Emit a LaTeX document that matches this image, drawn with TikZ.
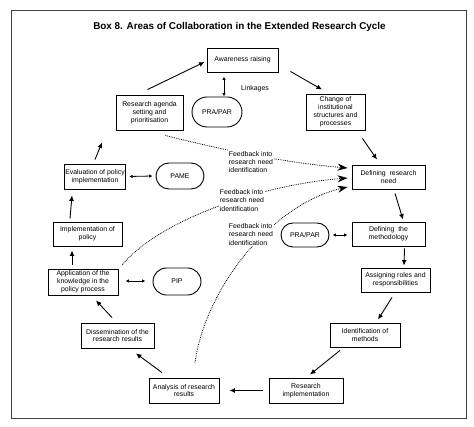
\documentclass[tikz,border=0pt]{standalone}
\usepackage{fontspec}
\setmainfont{Liberation Sans}
\usetikzlibrary{arrows.meta,shapes.misc,calc}
\begin{document}
\begin{tikzpicture}[x=1pt,y=-1pt,
 box/.style={draw,line width=0.9pt,align=center,font=\fontsize{6.9}{7.9}\selectfont,inner sep=1pt},
 pill/.style={draw,rounded rectangle,line width=0.9pt,font=\fontsize{6.9}{7.9}\selectfont,inner sep=1pt},
 fb/.style={align=left,fill=white,font=\fontsize{6.9}{8.2}\selectfont,inner sep=1pt},
 arr/.style={line width=0.9pt,-{Latex[length=5.5pt,width=5pt]}},
 darr/.style={line width=0.8pt,{Latex[length=3.5pt,width=3.5pt]}-{Latex[length=3.5pt,width=3.5pt]}},
 dots/.style={densely dotted,line width=0.8pt,-{Stealth[length=10pt,width=7pt]}}]
\useasboundingbox (0,0) rectangle (474,427);
\draw[line width=0.8pt,black!75] (11,10) rectangle (466,418);
\node[font=\bfseries\fontsize{9.9}{12}\selectfont] (title) at (239.5,27) {Box 8. Areas of Collaboration in the Extended Research Cycle};

\node[box,minimum width=71pt,minimum height=24pt] (aware) at (242.5,60) {Awareness raising};
\node[pill,minimum width=52pt,minimum height=30pt] (praTop) at (217,112) {PRA/PAR};
\node[box,minimum width=67pt,minimum height=35pt] (agenda) at (149.5,112.5) {Research agenda\\setting and\\prioritisation};
\node[box,minimum width=59pt,minimum height=36pt] (change) at (335.5,112) {Change of\\institutional\\structures and\\processes};
\node[box,minimum width=60pt,minimum height=25pt] (eval) at (95,176.5) {Evaluation of policy\\implementation};
\node[pill,minimum width=50pt,minimum height=26pt] (pame) at (180,176) {PAME};
\node[box,minimum width=73pt,minimum height=24pt] (need) at (388.5,177) {Defining\ \ research\\need};
\node[box,minimum width=69pt,minimum height=24pt] (impl) at (87.5,234) {Implementation of\\policy};
\node[pill,minimum width=50pt,minimum height=24pt] (praRight) at (305,235) {PRA/PAR};
\node[box,minimum width=73pt,minimum height=24pt] (method) at (388.5,234) {Defining\ \ the\\methodology};
\node[box,minimum width=70pt,minimum height=26pt] (appl) at (83,282) {Application of the\\knowledge in the\\policy process};
\node[pill,minimum width=50pt,minimum height=27pt] (pip) at (177,281.5) {PIP};
\node[box,minimum width=69pt,minimum height=24pt] (assign) at (395.5,280) {Assigning roles and\\responsibilities};
\node[box,minimum width=73pt,minimum height=25pt] (dissem) at (117.5,335.5) {Dissemination of the\\research results};
\node[box,minimum width=70pt,minimum height=24pt] (ident) at (365,335) {Identification of\\methods};
\node[box,minimum width=70pt,minimum height=25pt] (analysis) at (184,390.5) {Analysis of research\\results};
\node[box,minimum width=74pt,minimum height=25pt] (resimpl) at (306,390.5) {Research\\implementation};

% dotted feedback curves
\draw[dots] ($(agenda.south east)+(-18,5)$) .. controls (230,152) and (290,163) .. ($(need.west)+(-4,-9)$);
\draw[dots] ($(appl.north east)+(4,-4)$) .. controls (160,220) and (260,185) .. ($(need.west)+(-4,1)$);
\draw[dots] ($(analysis.north)+(11,-15)$) .. controls (205,290) and (270,205) .. ($(need.west)+(-4,10)$);

\node[fb] (fb1) at (251,162) {Feedback into\\research need\\identification};
\node[fb] (fb2) at (242,200.5) {Feedback into\\research need\\identification};
\node[fb] (fb3) at (251,234.5) {Feedback into\\research need\\identification};
\node[font=\fontsize{6.9}{7.9}\selectfont] (link) at (255,89) {Linkages};

% cycle arrows
\draw[arr] ($(agenda.north)+(-2,-5)$) -- ($(aware.west)+(-2,2)$);
\draw[arr] ($(aware.south east)+(12,-1)$) -- ($(change.north)+(-13.5,-4)$);
\draw[arr] ($(change.south east)+(-3,8)$) -- ($(need.north)+(-11.5,-5)$);
\draw[arr] ($(need.south)+(6.5,4)$) -- ($(method.north)+(14.5,-2)$);
\draw[arr] ($(method.south)+(16,2)$) -- ($(assign.north)+(8.5,-2)$);
\draw[arr] ($(assign.south)+(-3.5,5)$) -- ($(ident.north)+(13,-3)$);
\draw[arr] ($(ident.south)+(-25,3)$) -- ($(resimpl.north)+(4,-3)$);
\draw[arr] ($(resimpl.west)+(-6,0)$) -- ($(analysis.east)+(10,0)$);
\draw[arr] ($(analysis.north)+(-22,-5)$) -- ($(dissem.south)+(18.5,5)$);
\draw[arr] ($(dissem.north)+(-5.5,-5)$) -- ($(appl.south)+(13,5)$);
\draw[arr] ($(appl.north)+(-11,-4)$) -- ($(impl.south)+(-15.5,4)$);
\draw[arr] ($(impl.north)+(-17.5,-3)$) -- ($(eval.south)+(-23,6)$);
\draw[arr] ($(eval.north)+(0,-4)$) -- ($(eval.north)+(7,-21)$);

% linkage double arrows
\draw[darr] ($(aware.south)+(-18.5,4)$) -- ($(praTop.north)+(7,0)$);
\draw[darr] ($(eval.east)+(3,0)$) -- ($(pame.west)+(-3,0)$);
\draw[darr] ($(appl.east)+(7,-1)$) -- ($(pip.west)+(-7,-0.5)$);
\draw[darr] ($(praRight.east)+(3,0)$) -- ($(method.west)+(-4,1)$);
\end{tikzpicture}
\end{document}
